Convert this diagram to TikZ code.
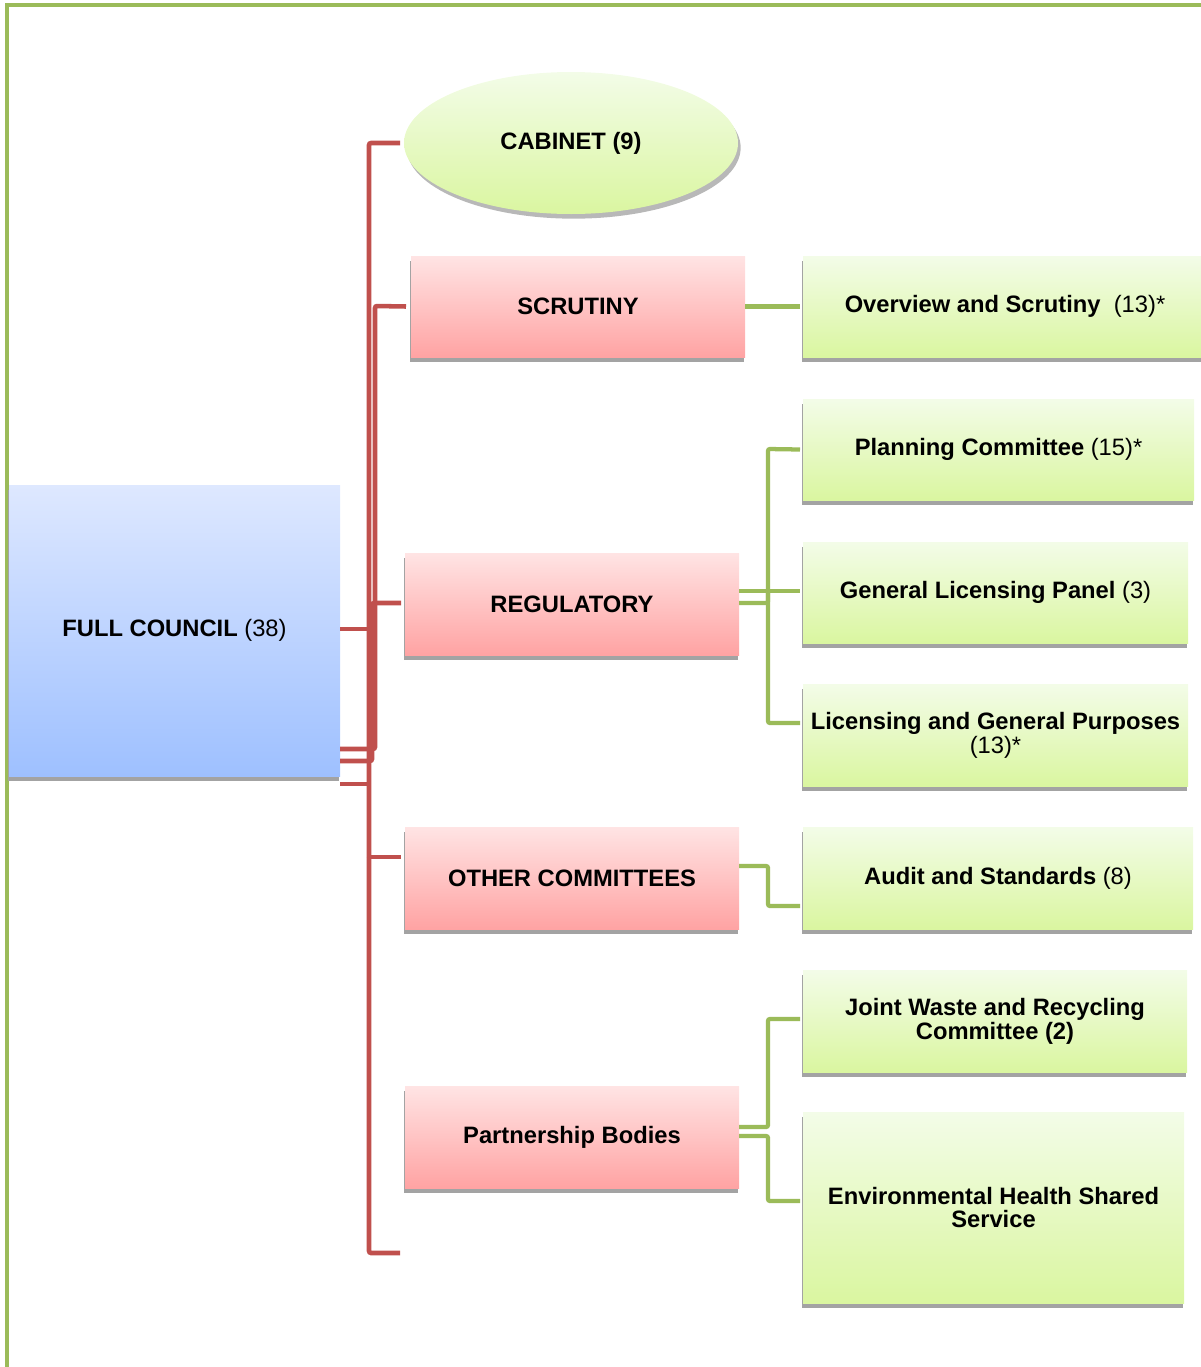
\documentclass[tikz,border=0pt]{standalone}
\usepackage{fontspec}
\setmainfont{Liberation Sans}
\usetikzlibrary{shapes.geometric,shadows,calc}
\definecolor{gtop}{RGB}{243,252,232}
\definecolor{gbot}{RGB}{218,246,160}
\definecolor{rtop}{RGB}{255,228,228}
\definecolor{rbot}{RGB}{255,163,163}
\definecolor{btop}{RGB}{222,232,255}
\definecolor{bbot}{RGB}{158,192,255}
\definecolor{redln}{RGB}{192,80,77}
\definecolor{grnln}{RGB}{155,187,89}
\def\pxu{0.75pt}
\begin{document}
\begin{tikzpicture}[x=0.75pt,y=-0.75pt,
  every node/.style={inner sep=0pt,outer sep=0pt,align=center,
    font=\fontsize{17.8}{18.8}\selectfont\bfseries},
  shad/.style={drop shadow={shadow xshift=-0.5pt,shadow yshift=-4pt,fill=black!36,opacity=1}},
  gbox/.style={rectangle,top color=gtop,bottom color=gbot,shad},
  rbox/.style={rectangle,top color=rtop,bottom color=rbot,shad},
  bbox/.style={rectangle,top color=btop,bottom color=bbot,shad},
  rline/.style={draw=redln,line width=3.4pt,rounded corners=1.5pt},
  gline/.style={draw=grnln,line width=3.2pt,rounded corners=1.5pt},
  frameln/.style={draw=grnln,line width=3.6pt}]
\useasboundingbox (0,0) rectangle (1201,1367);
% frame
\coordinate (frA) at (7,1370);
\coordinate (frB) at (7,5);
\coordinate (frC) at (1205,5);
\draw[frameln] (frA) -- (frB) -- (frC);

% nodes
\node[bbox,minimum width=331*\pxu,minimum height=291*\pxu] (fc) at (174.5,630.5) {FULL COUNCIL {\mdseries(38)}};
\node[ellipse,top color=gtop,bottom color=gbot,
  drop shadow={shadow xshift=2pt,shadow yshift=-3.5pt,fill=black!35,opacity=0.8},
  minimum width=334*\pxu,minimum height=142*\pxu] (cab) at (571,143) {CABINET (9)};
\node[rbox,minimum width=334*\pxu,minimum height=101*\pxu] (scr) at (578,306.5) {SCRUTINY};
\node[rbox,minimum width=334*\pxu,minimum height=102*\pxu] (reg) at (572,604) {REGULATORY};
\node[rbox,minimum width=334*\pxu,minimum height=102*\pxu] (oth) at (572,878) {OTHER COMMITTEES};
\node[rbox,minimum width=334*\pxu,minimum height=102*\pxu] (par) at (572,1137) {Partnership Bodies};

\node[gbox,minimum width=404*\pxu,minimum height=101*\pxu] (ovs) at (1005,306.5) {Overview and Scrutiny\ \ {\mdseries(13)*}};
\node[gbox,minimum width=391*\pxu,minimum height=101*\pxu] (pla) at (998.5,449.5) {Planning Committee {\mdseries(15)*}};
\node[gbox,minimum width=385*\pxu,minimum height=101*\pxu] (glp) at (995.5,592.5) {General Licensing Panel {\mdseries(3)}};
\node[gbox,minimum width=385*\pxu,minimum height=102*\pxu] (lgp) at (995.5,735) {Licensing and General Purposes\\[-1pt]{\mdseries(13)*}};
\node[gbox,minimum width=390*\pxu,minimum height=102*\pxu] (aud) at (998,878) {Audit and Standards {\mdseries(8)}};
\node[gbox,minimum width=384*\pxu,minimum height=102*\pxu] (jwr) at (995,1021) {Joint Waste and Recycling\\[-1pt]Committee (2)};
\node[gbox,minimum width=381*\pxu,minimum height=191*\pxu] (env) at (993.5,1207.5) {Environmental Health Shared\\[-1pt]Service};

% red connectors
\coordinate (parend) at (400,1253);
\draw[rline] (fc.east |- 0,629) -- (369,629);
\draw[rline] (369,857) |- ($(cab.west)+(-4,0)$);
\draw[rline] (fc.east |- 0,749) -| (375,306) -- ($(scr.west)+(-5,0)$);
\draw[rline] (fc.east |- 0,761) -| (372,603) -- ($(reg.west |- 0,603)+(-4,0)$);
\draw[rline] (fc.east |- 0,784) -- (369,784);
\draw[rline] (369,857) -- ($(oth.west |- 0,857)+(-4,0)$);
\draw[rline] (369,857) |- (parend);

% green connectors
\draw[gline] (scr.east) -- ($(ovs.west)+(-3,0)$);
\draw[gline] (reg.east |- 0,591) -- ($(glp.west |- 0,591)+(-3,0)$);
\draw[gline] (reg.east |- 0,603) -| (768,449) -- ($(pla.west)+(-3,0)$);
\draw[gline] (768,591) |- ($(lgp.west |- 0,723)+(-3,0)$);
\draw[gline] (oth.east |- 0,866) -| (768,906) -- ($(aud.west |- 0,906)+(-3,0)$);
\draw[gline] (par.east |- 0,1127) -| (768,1019) -- ($(jwr.west |- 0,1019)+(-3,0)$);
\draw[gline] (par.east |- 0,1136) -| (768,1201) -- ($(env.west |- 0,1201)+(-3,0)$);
\end{tikzpicture}
\end{document}
